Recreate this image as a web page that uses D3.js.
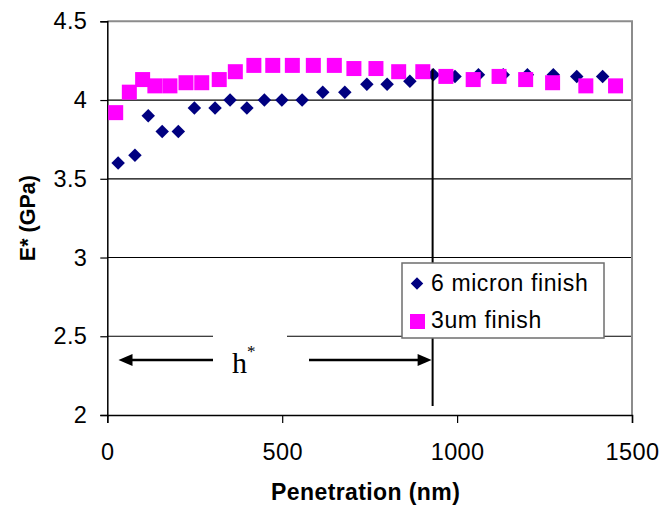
<!DOCTYPE html>
<html>
<head>
<meta charset="utf-8">
<script src="https://cdn.jsdelivr.net/npm/d3@7"></script>
<style>
  html, body { margin: 0; padding: 0; background: #fff; }
  svg { display: block; font-family: "Liberation Sans", Arial, sans-serif; }
</style>
</head>
<body>
<svg id="chart" width="663" height="514"></svg>
<script>
// Penetration depth (nm) and reduced modulus E* (GPa) for two surface finishes
const sixMicronX = [31, 79, 117, 157, 203, 249, 308, 351, 399, 449, 499, 557, 616, 679, 742, 800, 865, 932, 994, 1061, 1132, 1201, 1275, 1342, 1416];
const sixMicronY = [3.6, 3.65, 3.9, 3.8, 3.8, 3.95, 3.95, 4.0, 3.95, 4.0, 4.0, 4.0, 4.05, 4.05, 4.1, 4.1, 4.12, 4.16, 4.15, 4.16, 4.16, 4.16, 4.16, 4.15, 4.15];
const threeUmX = [24, 63, 101, 136, 179, 225, 270, 320, 366, 419, 473, 529, 589, 649, 705, 768, 833, 902, 968, 1046, 1120, 1196, 1273, 1368, 1453];
const threeUmY = [3.92, 4.05, 4.13, 4.09, 4.09, 4.11, 4.11, 4.13, 4.18, 4.22, 4.22, 4.22, 4.22, 4.22, 4.2, 4.2, 4.18, 4.18, 4.15, 4.13, 4.15, 4.13, 4.11, 4.09, 4.09];
const seriesNames = ["6 micron finish", "3um finish"];
const xTicks = [0, 500, 1000, 1500];
const yTicks = [2, 2.5, 3, 3.5, 4, 4.5];
const hStar = 930;          // critical depth h* (nm)
const hStarLevel = 2.35;    // height of the h* arrows (GPa)

(function () {
const svg = d3.select("#chart");
const pLeft = 107.3, pRight = 632, pTop = 21.3, pBottom = 415;

const x = d3.scaleLinear().domain([0, 1500]).range([pLeft, pRight]);
const y = d3.scaleLinear().domain([2, 4.5]).range([pBottom, pTop]);

// horizontal gridlines
svg.append("g").selectAll("line")
  .data(yTicks.filter(t => t > 2 && t < 4.5))
  .join("line")
  .attr("x1", pLeft).attr("x2", pRight)
  .attr("y1", d => y(d)).attr("y2", d => y(d))
  .attr("stroke", "#000").attr("stroke-width", 1.2);

// plot-area frame (top and right)
svg.append("path")
  .attr("d", `M${pLeft},${pTop}H${pRight}V${pBottom}`)
  .attr("fill", "none").attr("stroke", "#8c8c8c").attr("stroke-width", 2);

// axes
const xAxis = svg.append("g")
  .attr("transform", `translate(0,${pBottom})`)
  .call(d3.axisBottom(x).tickValues(xTicks).tickSize(8).tickPadding(20).tickFormat(d3.format("d")));
const yAxis = svg.append("g")
  .attr("transform", `translate(${pLeft},0)`)
  .call(d3.axisLeft(y).tickValues(yTicks).tickSize(7).tickPadding(13).tickFormat(d => String(d)));
[xAxis, yAxis].forEach(g => {
  g.select(".domain").attr("stroke", "#000").attr("stroke-width", 1.5);
  g.selectAll(".tick line").attr("stroke", "#000").attr("stroke-width", 1.2);
  g.selectAll("text").attr("font-size", 23.5).attr("fill", "#000")
    .attr("letter-spacing", 0.4)
    .attr("font-family", "'Liberation Sans', Arial, sans-serif");
});

// axis titles
svg.append("text")
  .attr("x", (pLeft + pRight) / 2 - 4).attr("y", 500)
  .attr("text-anchor", "middle").attr("font-weight", "bold").attr("font-size", 23)
  .attr("letter-spacing", 0.4)
  .text("Penetration (nm)");
svg.append("text")
  .attr("transform", `translate(35,${(pTop + pBottom) / 2}) rotate(-90)`)
  .attr("text-anchor", "middle").attr("font-weight", "bold").attr("font-size", 21.5)
  .text("E* (GPa)");

// data markers
const diamond = d3.symbol().type(d3.symbolDiamond2).size(116);
const sixData = sixMicronX.map((v, i) => [v, sixMicronY[i]]);
const threeData = threeUmX.map((v, i) => [v, threeUmY[i]]);

svg.append("g").selectAll("path")
  .data(sixData).join("path")
  .attr("d", diamond)
  .attr("transform", d => `translate(${x(d[0])},${y(d[1])})`)
  .attr("fill", "#000080");

const sq = 15;
svg.append("g").selectAll("rect")
  .data(threeData).join("rect")
  .attr("x", d => x(d[0]) - sq / 2).attr("y", d => y(d[1]) - sq / 2)
  .attr("width", sq).attr("height", sq)
  .attr("fill", "#ff00ff");

// h* annotation: white label patch, arrows, vertical marker
const ann = svg.append("g");
ann.append("rect").attr("x", 213).attr("y", y(2.5) - 4).attr("width", 74).attr("height", 40).attr("fill", "#fff");
ann.append("line")
  .attr("x1", x(hStar)).attr("x2", x(hStar))
  .attr("y1", y(sixMicronY[17]) - 6).attr("y2", 406)
  .attr("stroke", "#000").attr("stroke-width", 2);

const ay = y(hStarLevel);
const arrowLen = 14, arrowHalf = 6;
const lx = x(32), lEnd = 213, rStart = 309, rx = x(hStar) - 1;
ann.append("line").attr("x1", lx + arrowLen - 1).attr("x2", lEnd).attr("y1", ay).attr("y2", ay)
  .attr("stroke", "#000").attr("stroke-width", 2.5);
ann.append("path").attr("d", `M${lx},${ay}L${lx + arrowLen},${ay - arrowHalf}L${lx + arrowLen},${ay + arrowHalf}Z`).attr("fill", "#000");
ann.append("line").attr("x1", rStart).attr("x2", rx - arrowLen + 1).attr("y1", ay).attr("y2", ay)
  .attr("stroke", "#000").attr("stroke-width", 2.5);
ann.append("path").attr("d", `M${rx},${ay}L${rx - arrowLen},${ay - arrowHalf}L${rx - arrowLen},${ay + arrowHalf}Z`).attr("fill", "#000");

const hText = ann.append("text")
  .attr("x", 232).attr("y", 373)
  .attr("font-family", "'Liberation Serif', 'Times New Roman', serif")
  .attr("font-size", 30);
hText.append("tspan").text("h");
hText.append("tspan").attr("dy", -16).attr("font-size", 17).text("*");

// legend
const lg = svg.append("g").attr("transform", "translate(402,263)");
lg.append("rect").attr("width", 202).attr("height", 75)
  .attr("fill", "#fff").attr("stroke", "#6e6e6e").attr("stroke-width", 1.5);
lg.append("path").attr("d", d3.symbol().type(d3.symbolDiamond2).size(100))
  .attr("transform", "translate(15,20.5)").attr("fill", "#000080");
lg.append("rect").attr("x", 8).attr("y", 51).attr("width", 15).attr("height", 15).attr("fill", "#ff00ff");
lg.selectAll("text.lbl")
  .data(seriesNames).join("text")
  .attr("class", "lbl")
  .attr("x", 29).attr("y", (d, i) => 28 + i * 37)
  .attr("font-size", 23).attr("letter-spacing", 0.6)
  .text(d => d);
})();
</script>
</body>
</html>
